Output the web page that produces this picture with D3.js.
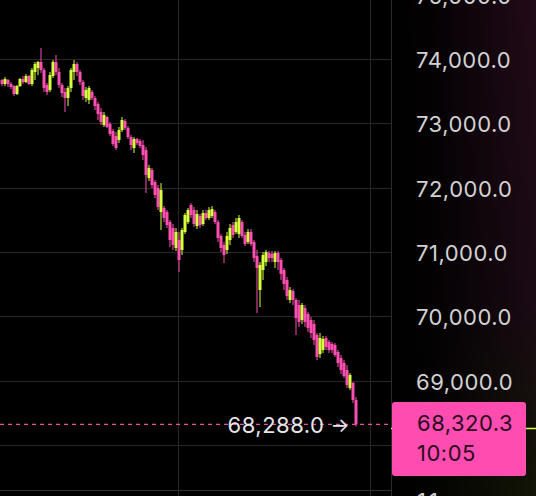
<!DOCTYPE html>
<html><head><meta charset="utf-8">
<script src="https://cdn.jsdelivr.net/npm/d3@7"></script>
<style>html,body{margin:0;padding:0;background:#000;overflow:hidden}svg{display:block}</style>
</head><body>
<svg id="c" width="536" height="496"></svg>
<script>
// one-minute candles
const opens = [73673,73611,73673,73611,73580,73456,73580,73689,73642,73736,73611,73798,73860,73953,73829,73596,73518,73736,73953,73798,73596,73487,73394,73549,73798,73922,73798,73642,73394,73363,73487,73394,73300,73176,72974,73098,72990,72881,72803,72741,72896,73036,72927,72787,72616,72756,72725,72663,72585,72150,72275,72088,71995,71622,71684,71622,71466,71373,71062,71186,71031,71311,71466,71730,71653,71404,71559,71435,71606,71528,71559,71622,71466,71249,71109,71031,71186,71420,71311,71280,71466,71264,71155,71311,71155,70938,70409,70720,70844,70984,70969,70844,70984,70876,70720,70565,70254,70394,70254,70176,69943,70129,70036,69943,69881,69710,69414,69477,69663,69601,69570,69554,69446,69352,69275,69166,68886,68964,68699];
const highs = [73689,73720,73689,73642,73596,73596,73705,73736,73767,73751,73860,73953,73969,74171,73860,73627,73798,73984,74062,73860,73627,73549,73580,73860,73984,73953,73829,73673,73565,73580,73518,73425,73332,73238,73176,73114,73021,72912,72865,72943,73098,73067,72958,72819,72787,72772,72756,72741,72632,72352,72306,72119,72041,72072,71715,71653,71497,71435,71373,71311,71373,71606,71684,71762,71699,71653,71591,71653,71653,71699,71715,71653,71497,71280,71155,71311,71435,71466,71528,71575,71497,71311,71357,71357,71186,71031,70844,71000,71031,71015,71015,71015,71015,70907,70751,70611,70456,70425,70285,70254,70207,70176,70067,69990,69943,69741,69741,69694,69694,69632,69601,69585,69477,69399,69321,69243,69119,68979,68746];
const lows = [73580,73580,73565,73534,73425,73440,73565,73611,73627,73596,73580,73673,73751,73782,73487,73440,73487,73705,73751,73549,73409,73176,73269,73487,73673,73736,73596,73363,73332,73300,73363,73207,73052,72974,72943,72927,72803,72648,72585,72694,72865,72896,72756,72585,72539,72663,72616,72430,71917,72104,71995,71839,71653,71342,71466,71373,71078,71031,71015,70689,70953,71280,71435,71528,71389,71357,71373,71404,71497,71497,71528,71435,71155,71000,70829,70969,71109,71218,71280,71218,71218,71093,71124,71093,70844,70052,70145,70565,70782,70844,70844,70751,70720,70565,70409,70254,70207,70176,69710,69834,69881,69834,69756,69663,69554,69321,69352,69430,69477,69430,69430,69368,69212,69104,69041,68886,68855,68653,68288];
const closes = [73611,73689,73611,73565,73456,73580,73689,73642,73736,73611,73829,73922,73953,73829,73549,73487,73751,73953,73798,73596,73471,73394,73549,73829,73922,73798,73642,73425,73518,73549,73394,73269,73145,73021,73129,72943,72834,72679,72616,72896,73052,72927,72787,72663,72756,72694,72648,72508,72197,72306,72041,71886,71699,71964,71528,71420,71186,71109,71311,70876,71342,71575,71653,71575,71435,71591,71420,71606,71528,71653,71668,71466,71218,71062,70953,71249,71373,71264,71466,71528,71249,71124,71311,71124,70907,70751,70798,70953,71000,70907,70907,70984,70844,70658,70503,70316,70409,70254,69974,69912,70176,69912,69819,69741,69632,69368,69663,69648,69523,69477,69477,69399,69275,69166,69072,68933,69088,68699,68320.3];

const priceTicks = [68000,69000,70000,71000,72000,73000,74000,75000];
const lastPrice = 68320.3;
const countdown = "10:05";
const bottomLabel = "11";
const hourGridIdx = [59, 123];   // candle slots where the hour changes
const slotCount = 130;            // visible candle slots incl. right margin

const W = 536, H = 496, plotR = 391, timeAxisY = 490;
const PINK = "#ff4fb2", LIME = "#d6ff3c", GRID = "#272727";
const FONT = "Inter, 'Noto Sans', sans-serif";
const FS = 22, LS = "0.5px";
const fmt = d3.format(",.1f");

const svg = d3.select("#c");
const defs = svg.append("defs");
const vg = defs.append("linearGradient").attr("id","vg").attr("x1",0).attr("y1",0).attr("x2",0).attr("y2",1);
vg.append("stop").attr("offset","0%").attr("stop-color","#220a18");
vg.append("stop").attr("offset","60%").attr("stop-color","#1a0a14");
vg.append("stop").attr("offset","100%").attr("stop-color","#121505");
const hg = defs.append("linearGradient").attr("id","hg").attr("x1",0).attr("y1",0).attr("x2",1).attr("y2",0);
hg.append("stop").attr("offset","0%").attr("stop-color","#000").attr("stop-opacity",1);
hg.append("stop").attr("offset","30%").attr("stop-color","#000").attr("stop-opacity",0.85);
hg.append("stop").attr("offset","100%").attr("stop-color","#000").attr("stop-opacity",0);
defs.append("clipPath").attr("id","plotClip").append("rect").attr("x",0).attr("y",0).attr("width",plotR).attr("height",H);

svg.append("rect").attr("width",W).attr("height",H).attr("fill","#000");
svg.append("rect").attr("x",plotR).attr("y",0).attr("width",W-plotR).attr("height",H).attr("fill","url(#vg)");
svg.append("rect").attr("x",plotR).attr("y",0).attr("width",W-plotR).attr("height",H).attr("fill","url(#hg)");

const x = d3.scaleBand().domain(d3.range(slotCount)).range([0.5, 0.5 + slotCount*3]).padding(0);
const y = d3.scaleLinear().domain([68000, 74000]).range([445, 59]);
const lpY = y(lastPrice);

// grid
const grid = svg.append("g").attr("clip-path","url(#plotClip)");
grid.selectAll("line.h").data(priceTicks).join("line")
  .attr("x1",0).attr("x2",plotR).attr("y1",d=>Math.round(y(d))+0.5).attr("y2",d=>Math.round(y(d))+0.5)
  .attr("stroke",GRID).attr("stroke-width",1);
grid.append("line").attr("x1",0).attr("x2",plotR).attr("y1",timeAxisY+0.5).attr("y2",timeAxisY+0.5).attr("stroke","#333");
grid.selectAll("line.v").data(hourGridIdx).join("line")
  .attr("x1",d=>Math.round(x(d))+0.5).attr("x2",d=>Math.round(x(d))+0.5).attr("y1",0).attr("y2",H)
  .attr("stroke",GRID).attr("stroke-width",1);
svg.append("line").attr("x1",plotR+0.5).attr("x2",plotR+0.5).attr("y1",0).attr("y2",H).attr("stroke","#2c2c2c");

// candles
const data = closes.map((c,i)=>({i, o:opens[i], h:highs[i], l:lows[i], c}));
const cg = svg.append("g").attr("clip-path","url(#plotClip)");
const bw = x.bandwidth();
cg.selectAll("rect.w").data(data).join("rect")
  .attr("x",d=>x(d.i)+bw/2-0.5).attr("width",1)
  .attr("y",d=>y(d.h)).attr("height",d=>Math.max(1,y(d.l)-y(d.h)))
  .attr("fill",d=>d.c>=d.o?LIME:PINK);
cg.selectAll("rect.b").data(data).join("rect")
  .attr("x",d=>x(d.i)).attr("width",bw)
  .attr("y",d=>y(Math.max(d.o,d.c))).attr("height",d=>Math.max(1,Math.abs(y(d.o)-y(d.c))))
  .attr("fill",d=>d.c>=d.o?LIME:PINK);

// last-price dashed line
svg.append("line").attr("x1",0).attr("x2",plotR).attr("y1",lpY).attr("y2",lpY)
  .attr("stroke","#e0559f").attr("stroke-width",1.3).attr("stroke-dasharray","4 4");

// low marker label
const lowIdx = d3.minIndex(lows);
const lowX = x(lowIdx);
svg.append("text").attr("x",lowX-30).attr("y",y(lows[lowIdx])-1)
  .attr("text-anchor","end").attr("dominant-baseline","central")
  .attr("font-family",FONT).attr("font-size",FS).attr("letter-spacing",LS).attr("fill","#e6e6e6")
  .text(fmt(lows[lowIdx]));
svg.append("text").attr("x",lowX-5).attr("y",y(lows[lowIdx])-1)
  .attr("text-anchor","end").attr("dominant-baseline","central")
  .attr("font-family",FONT).attr("font-size",FS-2).attr("fill","#e6e6e6")
  .text("\u2192");

// axis labels (labels hidden under the price badge are skipped)
svg.append("g").selectAll("text").data(priceTicks.filter(d=>Math.abs(y(d)-lpY) > 40)).join("text")
  .attr("x",416).attr("y",d=>y(d)+1).attr("dominant-baseline","central")
  .attr("font-family",FONT).attr("font-size",FS).attr("letter-spacing",LS).attr("fill","#d2d2d2")
  .text(d=>fmt(d));

svg.append("text").attr("x",417).attr("y",509).attr("font-family",FONT).attr("font-size",FS).attr("letter-spacing","3px").attr("fill","#cfcfcf").text(bottomLabel);

// right-edge line
svg.append("line").attr("x1",plotR).attr("x2",W).attr("y1",lpY+4).attr("y2",lpY+4).attr("stroke",LIME).attr("stroke-width",1.5);

// price badge
const bx = plotR+1, by = 402, bwid = 134, bh = 74;
svg.append("rect").attr("x",bx).attr("y",by).attr("width",bwid).attr("height",bh).attr("rx",3).attr("fill","#ff4cb0");
svg.append("text").attr("x",417).attr("y",lpY-1).attr("dominant-baseline","central")
  .attr("font-family",FONT).attr("font-size",FS).attr("letter-spacing",LS).attr("fill","#2a0a1c").text(fmt(lastPrice));
svg.append("text").attr("x",417).attr("y",lpY+29).attr("dominant-baseline","central")
  .attr("font-family",FONT).attr("font-size",FS).attr("letter-spacing",LS).attr("fill","#2a0a1c").text(countdown);
</script>
</body></html>
